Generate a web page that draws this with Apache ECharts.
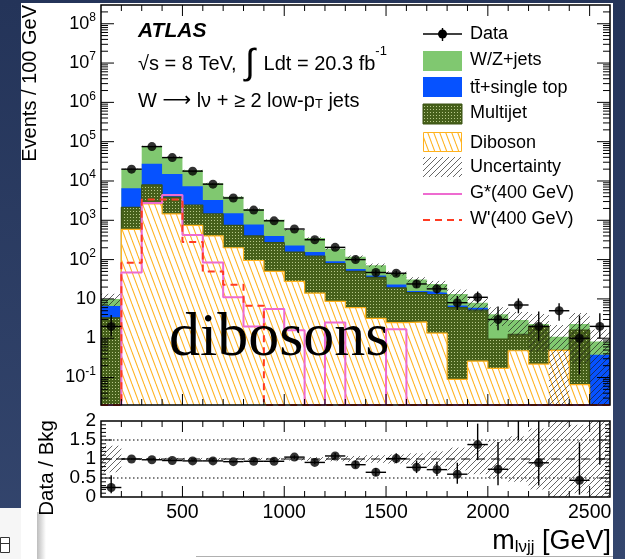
<!DOCTYPE html>
<html>
<head>
<meta charset="utf-8">
<title>m_lvjj distribution</title>
<script src="https://cdn.jsdelivr.net/npm/echarts@6.0.0/dist/echarts.min.js"></script>
<style>
  html, body { margin: 0; padding: 0; background: #2a3a60; }
  #chart { width: 625px; height: 559px; }
</style>
</head>
<body>
<div id="chart"></div>
<script>
// 25 bins of 100 GeV between 100 and 2600 GeV
const binLowEdges = [100, 200, 300, 400, 500, 600, 700, 800, 900, 1000, 1100, 1200, 1300, 1400, 1500, 1600, 1700, 1800, 1900, 2000, 2100, 2200, 2300, 2400, 2500];
const binWidth = 100;

// Observed events and error bar sizes
const dataCounts  = [2, 20000, 75000, 39400, 17800, 8300, 3700, 1820, 970, 600, 320, 205, 100, 47, 45, 24, 18, 8, 11, 3, 7, 2, 5, 1, 2];
const dataErrDown = [0.9, 141, 274, 198, 133, 91, 61, 43, 31, 24, 18, 14, 10, 6.9, 6.7, 4.9, 4.2, 2.8, 3.3, 1.4, 2.7, 1.16, 2.2, 0.88, 1.0];
const dataErrUp   = [1.9, 141, 274, 198, 133, 91, 61, 43, 31, 24, 18, 14, 10, 6.9, 6.7, 6.0, 5.3, 3.9, 4.4, 3.4, 3.3, 2.8, 2.7, 2.8, 2.3];

// Background processes, per bin (stacked: diboson, multijet, top, W/Z+jets)
const wzJets   = [3.4, 13470, 49000, 25900, 11300, 5440, 2470, 1160, 630, 340, 197, 99, 60.5, 33, 21.6, 15.2, 9.5, 6.5, 2.0, 3.15, 1.64, 0.3, 0.6, 0.7, 0.45];
const topQuark = [3.3, 4390, 19560, 11210, 4950, 1850, 770, 380, 130, 75, 32, 12, 7.5, 4, 4.4, 1.3, 1.6, 0.8, 0.8, 0, 0, 0, 0, 0, 0.38];
const multijet = [3.3, 1550, 5310, 2440, 1710, 1050, 540, 305, 220, 127, 109, 70, 44, 32, 16.5, 11.9, 11.5, 5.9, 4.9, 0.78, 0.78, 1.78, 0, 1.55, 0];
const diboson  = [0, 590, 2630, 1450, 740, 400, 200, 95, 50, 28, 14, 8.7, 6, 3.2, 2.5, 2.6, 1.35, 0.09, 0.26, 0.17, 0.48, 0.22, 0.49, 0.066, 0];
// Relative uncertainty on the total background
const bkgRelUncert = [0.35, 0.03, 0.03, 0.03, 0.03, 0.03, 0.03, 0.03, 0.03, 0.04, 0.05, 0.06, 0.08, 0.1, 0.12, 0.15, 0.2, 0.3, 0.4, 0.5, 0.6, 0.8, 1.0, 0.9, 1.0];

// Signal hypotheses
const gStar400  = [0, 47, 2770, 4420, 420, 84, 11, 2.0, 5.5, 1.6, 0, 2.5, 0, 0, 1.7, 0, 0, 0, 0, 0, 0, 0, 0, 0, 0];
const wPrime400 = [0, 83, 3360, 3360, 280, 50, 23, 6.7, 0, 0, 0, 0, 0, 0, 0, 0, 0, 0, 0, 0, 0, 0, 0, 0, 0];

// Data / background ratio (entries above 2 fall outside the panel)
const ratioValues  = [0.25, 1.00, 0.98, 0.96, 0.95, 0.95, 0.93, 0.94, 0.94, 1.05, 0.91, 1.08, 0.85, 0.65, 1.01, 0.78, 0.72, 0.60, 1.38, 0.73, 2.4, 0.90, 4.5, 0.44, 2.4];
const ratioErrDown = [0.15, 0.01, 0.005, 0.01, 0.01, 0.015, 0.02, 0.025, 0.035, 0.045, 0.05, 0.08, 0.09, 0.1, 0.12, 0.15, 0.17, 0.25, 0.41, 0.42, 0.9, 0.6, 2.0, 0.38, 1.55];
const ratioErrUp   = [0.32, 0.01, 0.005, 0.01, 0.01, 0.015, 0.02, 0.025, 0.035, 0.045, 0.06, 0.08, 0.1, 0.11, 0.14, 0.18, 0.21, 0.3, 0.55, 0.72, 1.2, 1.2, 2.5, 1.0, 2.5];

// Axis labels
const mainYLabelValues  = [0.1, 1, 10, 100, 1e3, 1e4, 1e5, 1e6, 1e7, 1e8];
const ratioYLabelValues = [0, 0.5, 1, 1.5, 2];
const xLabelValues      = [500, 1000, 1500, 2000, 2500];

const Y_MIN = 0.02, Y_MAX = 3e8, X_MIN = 100, X_MAX = 2600;
const FONT = '"Liberation Sans", Arial, Helvetica, sans-serif';

const COLORS = { wz: '#80c870', top: '#0652ff', dib: '#ffb21e', gstar: '#ee6bd0', wprime: '#ff3b22' };

// ---- fill patterns ----
function makeCanvas(w, h, draw) {
  const c = document.createElement('canvas');
  c.width = w; c.height = h;
  draw(c.getContext('2d'), w, h);
  return c;
}
const dibosonHatch = makeCanvas(6, 16, (ctx, w, h) => {
  ctx.fillStyle = '#fff'; ctx.fillRect(0, 0, w, h);
  ctx.strokeStyle = COLORS.dib; ctx.lineWidth = 1.1;
  for (const x0 of [-w, 0, w]) { ctx.beginPath(); ctx.moveTo(x0, 0); ctx.lineTo(x0 + w, h); ctx.stroke(); }
});
const uncertHatch = makeCanvas(6, 6, (ctx, w, h) => {
  ctx.strokeStyle = 'rgba(30,30,30,0.85)'; ctx.lineWidth = 0.8;
  for (const k of [-1, 0, 1]) { ctx.beginPath(); ctx.moveTo(k * w, h); ctx.lineTo(k * w + w, 0); ctx.stroke(); }
});
const multijetDots = makeCanvas(3, 3, (ctx) => {
  ctx.fillStyle = '#46601a'; ctx.fillRect(0, 0, 3, 3);
  ctx.fillStyle = '#b8c98a'; ctx.fillRect(1, 1, 1, 1);
});
const pat = (c) => ({ image: c, repeat: 'repeat' });

// ---- stacked levels ----
const cumDiboson  = diboson.slice();
const cumMultijet = cumDiboson.map((v, i) => v + multijet[i]);
const cumTop      = cumMultijet.map((v, i) => v + topQuark[i]);
const cumTotal    = cumTop.map((v, i) => v + wzJets[i]);

function stepPoints(vals) {
  const pts = [];
  vals.forEach((v, i) => {
    const y = v > Y_MIN ? v : Y_MIN;
    pts.push([binLowEdges[i], y], [binLowEdges[i] + binWidth, y]);
  });
  return pts;
}

function areaSeries(name, vals, fill, z, stroke) {
  return {
    name, type: 'line', xAxisIndex: 0, yAxisIndex: 0, data: stepPoints(vals),
    symbol: 'none', showSymbol: false, silent: true, z,
    lineStyle: stroke ? { color: stroke, width: 1.2 } : { width: 0, opacity: 0 },
    areaStyle: { color: fill, opacity: 1, origin: 'start' }
  };
}

function signalSeries(name, vals, color, type) {
  return {
    name, type: 'line', xAxisIndex: 0, yAxisIndex: 0, data: stepPoints(vals),
    symbol: 'none', showSymbol: false, silent: true, z: 7,
    lineStyle: { color, width: 2, type }
  };
}

const line = (x1, y1, x2, y2, w) => ({ type: 'line', shape: { x1, y1, x2, y2 }, style: { stroke: '#000', lineWidth: w || 1 } });

// ---- frame and ticks ----
const mainXTicks = [], mainYTicks = [], ratioYTicks = [];
for (let v = 200; v < X_MAX; v += 100) mainXTicks.push([v, v % 500 === 0 ? 11 : 6]);
for (let e = -2; e <= 8; e++) {
  for (let m = 1; m <= 9; m++) {
    const v = m * Math.pow(10, e);
    if (v > Y_MIN && v < Y_MAX) mainYTicks.push([v, m === 1 ? 13 : 7]);
  }
}
for (let k = 1; k < 20; k++) ratioYTicks.push([k / 10, k % 5 === 0 ? 11 : 5]);

function frameRenderer(xTicks, yTicks, xRef, yRef) {
  return (params, api) => {
    const cs = params.coordSys;
    const L = cs.x, T = cs.y, R = cs.x + cs.width, B = cs.y + cs.height;
    const kids = [];
    xTicks.forEach(([v, len]) => {
      const x = api.coord([v, yRef])[0];
      kids.push(line(x, B, x, B - len), line(x, T, x, T + len));
    });
    yTicks.forEach(([v, len]) => {
      const y = api.coord([xRef, v])[1];
      kids.push(line(L, y, L + len, y), line(R, y, R - len, y));
    });
    kids.push({ type: 'rect', shape: { x: L, y: T, width: cs.width, height: cs.height },
                style: { fill: 'none', stroke: '#000', lineWidth: 1.5 } });
    return { type: 'group', children: kids };
  };
}

// ---- series ----
const binCentres = binLowEdges.map(x => x + binWidth / 2);

const series = [
  areaSeries('W/Z+jets', cumTotal, COLORS.wz, 2),
  areaSeries('tt+single top', cumTop, COLORS.top, 3),
  areaSeries('Multijet', cumMultijet, pat(multijetDots), 4, '#3a5212'),
  areaSeries('Diboson', cumDiboson, pat(dibosonHatch), 5, COLORS.dib),
  {
    name: 'Uncertainty', type: 'custom', xAxisIndex: 0, yAxisIndex: 0, z: 6, silent: true,
    data: binCentres.map(x => [x, 1]),
    renderItem: (params, api) => {
      const i = params.dataIndex, tot = cumTotal[i], u = bkgRelUncert[i];
      if (!(tot > 0)) return null;
      const hi = Math.min(tot * (1 + u), Y_MAX), lo = Math.max(tot * (1 - u), Y_MIN);
      const p0 = api.coord([binLowEdges[i], hi]), p1 = api.coord([binLowEdges[i] + binWidth, lo]);
      return { type: 'rect', shape: { x: p0[0], y: p0[1], width: p1[0] - p0[0], height: p1[1] - p0[1] },
               style: { fill: pat(uncertHatch) } };
    }
  },
  signalSeries('G*(400 GeV)', gStar400, COLORS.gstar, 'solid'),
  signalSeries("W'(400 GeV)", wPrime400, COLORS.wprime, [7, 5]),
  {
    name: 'Data errors', type: 'custom', xAxisIndex: 0, yAxisIndex: 0, z: 9, silent: true,
    data: binCentres.map((x, i) => [x, dataCounts[i]]),
    renderItem: (params, api) => {
      const i = params.dataIndex, n = dataCounts[i];
      const lo = Math.max(n - dataErrDown[i], Y_MIN * 0.5), hi = n + dataErrUp[i];
      const c = api.coord([binCentres[i], n]);
      const l = api.coord([binLowEdges[i], n]), r = api.coord([binLowEdges[i] + binWidth, n]);
      const yt = api.coord([binCentres[i], hi])[1], yb = Math.min(api.coord([binCentres[i], lo])[1], params.coordSys.y + params.coordSys.height);
      return { type: 'group', children: [line(l[0], c[1], r[0], c[1], 1.4), line(c[0], yt, c[0], yb, 1.4)] };
    }
  },
  {
    name: 'Data', type: 'scatter', xAxisIndex: 0, yAxisIndex: 0, z: 10, silent: true,
    symbol: 'circle', symbolSize: 9, itemStyle: { color: '#000' },
    data: binCentres.map((x, i) => [x, dataCounts[i]])
  },
  {
    name: 'Main frame', type: 'custom', xAxisIndex: 0, yAxisIndex: 0, z: 20, silent: true,
    data: [[X_MIN + 1, 1]], renderItem: frameRenderer(mainXTicks, mainYTicks, X_MIN, Y_MIN)
  },

  // ratio panel
  {
    name: 'Ratio uncertainty', type: 'custom', xAxisIndex: 1, yAxisIndex: 1, z: 3, silent: true,
    data: binCentres.map(x => [x, 1]),
    renderItem: (params, api) => {
      const i = params.dataIndex, u = bkgRelUncert[i];
      const hi = Math.min(1 + u, 2), lo = Math.max(1 - u, 0);
      const p0 = api.coord([binLowEdges[i], hi]), p1 = api.coord([binLowEdges[i] + binWidth, lo]);
      return { type: 'rect', shape: { x: p0[0], y: p0[1], width: p1[0] - p0[0], height: p1[1] - p0[1] },
               style: { fill: pat(uncertHatch) } };
    }
  },
  { type: 'line', xAxisIndex: 1, yAxisIndex: 1, z: 4, silent: true, symbol: 'none',
    data: [[X_MIN, 1], [X_MAX, 1]], lineStyle: { color: '#000', width: 1, type: [9, 6] } },
  { type: 'line', xAxisIndex: 1, yAxisIndex: 1, z: 4, silent: true, symbol: 'none',
    data: [[X_MIN, 0.5], [X_MAX, 0.5]], lineStyle: { color: '#000', width: 1, type: [1.5, 2.5] } },
  { type: 'line', xAxisIndex: 1, yAxisIndex: 1, z: 4, silent: true, symbol: 'none',
    data: [[X_MIN, 1.5], [X_MAX, 1.5]], lineStyle: { color: '#000', width: 1, type: [1.5, 2.5] } },
  {
    name: 'Ratio errors', type: 'custom', xAxisIndex: 1, yAxisIndex: 1, z: 9, silent: true,
    data: binCentres.map(x => [x, 1]),
    renderItem: (params, api) => {
      const i = params.dataIndex, v = ratioValues[i];
      const lo = Math.max(v - ratioErrDown[i], 0), hi = Math.min(v + ratioErrUp[i], 2);
      const kids = [];
      if (lo < 2) {
        const x = api.coord([binCentres[i], 0])[0];
        kids.push(line(x, api.coord([0, hi])[1], x, api.coord([0, lo])[1], 1.4));
      }
      if (v <= 2) {
        const l = api.coord([binLowEdges[i], v]), r = api.coord([binLowEdges[i] + binWidth, v]);
        kids.push(line(l[0], l[1], r[0], r[1], 1.4));
      }
      return { type: 'group', children: kids };
    }
  },
  {
    name: 'Ratio', type: 'scatter', xAxisIndex: 1, yAxisIndex: 1, z: 10, silent: true, clip: true,
    symbol: 'circle', symbolSize: 9, itemStyle: { color: '#000' },
    data: binCentres.map((x, i) => [x, ratioValues[i]]).filter(p => p[1] <= 2)
  },
  {
    name: 'Ratio frame', type: 'custom', xAxisIndex: 1, yAxisIndex: 1, z: 20, silent: true,
    data: [[X_MIN + 1, 1]], renderItem: frameRenderer(mainXTicks, ratioYTicks, X_MIN, 0)
  }
];

// ---- page furniture, annotations and legend ----
const g = [];
g.push({ type: 'rect', z: -110, shape: { x: 0, y: 0, width: 625, height: 559 },
  style: { fill: new echarts.graphic.LinearGradient(0, 0, 0, 1, [{ offset: 0, color: '#243459' }, { offset: 1, color: '#34466e' }]) } });
g.push({ type: 'rect', z: -105, shape: { x: 21, y: 3, width: 592, height: 556 }, style: { fill: '#fff' } });
g.push({ type: 'rect', z: -105, shape: { x: 0, y: 508, width: 21, height: 51 }, style: { fill: '#f6f6f6' } });
g.push({ type: 'rect', z: -104, shape: { x: 0.5, y: 537.5, width: 9, height: 15 }, style: { fill: '#fff', stroke: '#333', lineWidth: 1 } });
g.push({ type: 'line', z: -104, shape: { x1: 0, y1: 543.5, x2: 9, y2: 543.5 }, style: { stroke: '#333', lineWidth: 1 } });
g.push({ type: 'rect', z: -104, shape: { x: 37, y: 512, width: 9, height: 47 },
  style: { fill: new echarts.graphic.LinearGradient(0, 0, 1, 0, [{ offset: 0, color: '#bdbdbd' }, { offset: 1, color: '#ffffff' }]) } });
g.push({ type: 'line', z: -104, shape: { x1: 196, y1: 556.5, x2: 613, y2: 556.5 }, style: { stroke: '#b0b0b0', lineWidth: 1 } });

function txt(x, y, text, extra) {
  return Object.assign({ type: 'text', z: 100, x, y,
    style: Object.assign({ text, fill: '#000', font: '18px ' + FONT, align: 'left', verticalAlign: 'middle',
      textAlign: 'left', textVerticalAlign: 'middle' }, extra || {}) });
}

// axis titles
g.push(Object.assign(txt(30, 5, 'Events / 100 GeV', { font: '20px ' + FONT, align: 'right', textAlign: 'right' }), { rotation: Math.PI / 2 }));
g.push(Object.assign(txt(47, 420, 'Data / Bkg', { font: '20.5px ' + FONT, align: 'right', textAlign: 'right' }), { rotation: Math.PI / 2 }));
g.push(txt(611, 542, 'm{sub|lνjj} [GeV]', {
  font: '27px ' + FONT, align: 'right', textAlign: 'right',
  rich: { sub: { fontSize: 17, fontFamily: FONT, lineHeight: 14, verticalAlign: 'bottom', fill: '#000' } }
}));

// annotations
g.push(txt(138, 31, 'ATLAS', { font: 'italic bold 21px ' + FONT }));
g.push(txt(138, 64, '√s = 8 TeV, {i|∫} Ldt = 20.3 fb{sup|-1}', {
  font: '20px ' + FONT,
  rich: {
    i: { fontSize: 36, fontFamily: FONT, lineHeight: 38, fill: '#000', padding: [0, 3, 0, 3] },
    sup: { fontSize: 13, fontFamily: FONT, lineHeight: 12, verticalAlign: 'top', fill: '#000' }
  }
}));
g.push(txt(138, 101, 'W {a|⟶} lν + ≥ 2 low-p{sub|T} jets', {
  font: '20px ' + FONT,
  rich: {
    a: { fontSize: 20, fontFamily: '"DejaVu Sans", sans-serif', fill: '#000' },
    sub: { fontSize: 13, fontFamily: FONT, lineHeight: 12, verticalAlign: 'bottom', fill: '#000' }
  }
}));
g.push(txt(169, 339, 'dibosons', { font: '62px "Liberation Serif", "Times New Roman", serif' }));

// legend
const LX = 423, LW = 39, TX = 470;
g.push({ type: 'line', z: 100, shape: { x1: LX, y1: 34, x2: LX + LW, y2: 34 }, style: { stroke: '#000', lineWidth: 1.4 } });
g.push({ type: 'line', z: 100, shape: { x1: LX + LW / 2, y1: 28, x2: LX + LW / 2, y2: 41 }, style: { stroke: '#000', lineWidth: 1.4 } });
g.push({ type: 'circle', z: 101, shape: { cx: LX + LW / 2, cy: 34, r: 4.5 }, style: { fill: '#000' } });
g.push(txt(TX, 34, 'Data'));
g.push({ type: 'rect', z: 100, shape: { x: LX, y: 51, width: LW, height: 20 }, style: { fill: COLORS.wz } });
g.push(txt(TX, 60, 'W/Z+jets'));
g.push({ type: 'rect', z: 100, shape: { x: LX, y: 77, width: LW, height: 20 }, style: { fill: COLORS.top } });
g.push(txt(TX, 88, 'tt\u0304+single top'));
g.push({ type: 'rect', z: 100, shape: { x: LX, y: 104, width: LW, height: 20 }, style: { fill: pat(multijetDots), stroke: '#3a5212', lineWidth: 1 } });
g.push(txt(TX, 113, 'Multijet'));
g.push({ type: 'rect', z: 100, shape: { x: LX + 0.5, y: 132.5, width: LW - 1, height: 19 }, style: { fill: pat(dibosonHatch), stroke: COLORS.dib, lineWidth: 1 } });
g.push(txt(TX, 143, 'Diboson'));
g.push({ type: 'rect', z: 100, shape: { x: LX, y: 157, width: LW, height: 20 }, style: { fill: pat(uncertHatch) } });
g.push(txt(TX, 167, 'Uncertainty'));
g.push({ type: 'line', z: 100, shape: { x1: LX, y1: 194, x2: LX + LW, y2: 194 }, style: { stroke: COLORS.gstar, lineWidth: 2 } });
g.push(txt(TX, 193, 'G*(400 GeV)'));
g.push({ type: 'line', z: 100, shape: { x1: LX, y1: 220, x2: LX + LW, y2: 220 }, style: { stroke: COLORS.wprime, lineWidth: 2, lineDash: [7, 5] } });
g.push(txt(TX, 219, "W'(400 GeV)"));

const chart = echarts.init(document.getElementById('chart'), null, { renderer: 'canvas', width: 625, height: 559 });

chart.setOption({
  animation: false,
  backgroundColor: 'transparent',
  grid: [
    { left: 101, top: 5, width: 509, height: 400, containLabel: false },
    { left: 101, top: 421, width: 509, height: 76, containLabel: false }
  ],
  xAxis: [
    { gridIndex: 0, type: 'value', min: X_MIN, max: X_MAX,
      axisLine: { show: false }, axisTick: { show: false }, axisLabel: { show: false }, splitLine: { show: false } },
    { gridIndex: 1, type: 'value', min: X_MIN, max: X_MAX,
      axisLine: { show: false }, axisTick: { show: false }, splitLine: { show: false },
      axisLabel: { customValues: xLabelValues, fontSize: 19.5, fontFamily: FONT, color: '#000', margin: 6,
        formatter: (v) => String(Math.round(v)) } }
  ],
  yAxis: [
    { gridIndex: 0, type: 'log', logBase: 10, min: Y_MIN, max: Y_MAX,
      axisLine: { show: false }, axisTick: { show: false }, splitLine: { show: false },
      axisLabel: {
        customValues: mainYLabelValues, fontSize: 18, fontFamily: FONT, color: '#000', margin: 5, lineHeight: 24,
        formatter: (v) => {
          const e = Math.round(Math.log10(v));
          if (e === 0) return '1';
          if (e === 1) return '10';
          return '10{sup|' + e + '}';
        },
        rich: { sup: { fontSize: 12, fontFamily: FONT, color: '#000', lineHeight: 12, verticalAlign: 'top' } }
      } },
    { gridIndex: 1, type: 'value', min: 0, max: 2,
      axisLine: { show: false }, axisTick: { show: false }, splitLine: { show: false },
      axisLabel: { customValues: ratioYLabelValues, fontSize: 19, fontFamily: FONT, color: '#000', margin: 5,
        formatter: (v) => String(v) } }
  ],
  graphic: { elements: g },
  series
});
</script>
</body>
</html>
